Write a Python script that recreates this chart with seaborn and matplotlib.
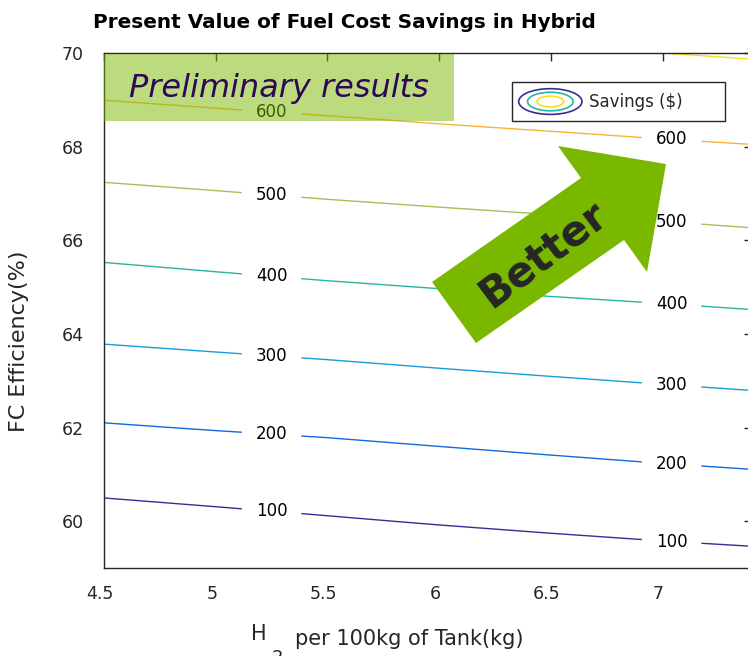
"""Contour map of present-value fuel cost savings (MATLAB-style look)."""
import matplotlib
matplotlib.use("Agg")
import matplotlib.pyplot as plt
import matplotlib.transforms as mtransforms
import numpy as np
import seaborn as sns
from matplotlib.legend_handler import HandlerBase
from matplotlib.patches import Ellipse, Polygon, Rectangle

# grid
h2_per_tank = [4.5, 5.0, 5.5, 6.0, 6.5, 7.0, 7.5]
fc_efficiency = [58, 60, 62, 64, 66, 68, 70, 72]
savings = [
    [-56, -44, -32, -19, -8, 3, 11],
    [69, 81, 93, 105, 116, 126, 135],
    [194, 204, 213, 224, 235, 246, 256],
    [313, 323, 333, 344, 354, 363, 372],
    [427, 439, 451, 460, 469, 477, 487],
    [545, 554, 563, 573, 582, 591, 599],
    [656, 666, 675, 684, 692, 700, 709],
    [763, 774, 782, 789, 797, 805, 814],
]
levels = [100, 200, 300, 400, 500, 600, 700]
level_colors = ["#3b2c95", "#1268df", "#17a0d8", "#29b6a0", "#a2c15c", "#f8b43a", "#f3e11e"]
label_x = [5.25, 7.04]

x_ticks = [4.5, 5, 5.5, 6, 6.5, 7]
x_ticklabels = ["4.5", "5", "5.5", "6", "6.5", "7"]
y_ticks = [60, 62, 64, 66, 68, 70]

W, H = 748, 656
DARK = "#262626"
GREEN = "#7ab800"

sns.set_theme(style="white")
plt.rcParams["font.family"] = ["DejaVu Sans"]


class NestedEllipses(HandlerBase):
    def create_artists(self, legend, orig_handle, xdescent, ydescent,
                       width, height, fontsize, trans):
        cx = width / 2 - xdescent
        cy = height / 2 - ydescent
        out = []
        for s, c in zip([1.0, 0.72, 0.42], [level_colors[0], level_colors[3], level_colors[6]]):
            e = Ellipse((cx, cy), width * s, height * s, fill=False,
                        edgecolor=c, lw=1.2, transform=trans)
            out.append(e)
        return out


fig = plt.figure(figsize=(W / 100, H / 100), dpi=100, facecolor="white")
ax = fig.add_axes([104 / W, (H - 568) / H, (752 - 104) / W, (568 - 53) / H])

X, Y = np.meshgrid(h2_per_tank, fc_efficiency)
Z = np.array(savings, dtype=float)
cs = ax.contour(X, Y, Z, levels=levels, colors=level_colors, linewidths=1.0)

# label spots: follow each level's line at the chosen x positions
spots = []
for lev, segs in zip(levels, cs.allsegs):
    if lev == 700 or not segs:
        continue
    seg = segs[0]
    order = np.argsort(seg[:, 0])
    for lx in label_x:
        spots.append((lx, float(np.interp(lx, seg[order, 0], seg[order, 1]))))
labels = ax.clabel(cs, levels=levels[:-1], manual=spots, inline=True,
                   inline_spacing=13, fontsize=12, colors="black", fmt="%d")
for t in labels:
    t.set_rotation(0)

ax.set_xlim(4.5, 7.4)
ax.set_ylim(59, 70)
ax.set_xticks(x_ticks)
ax.set_xticklabels(x_ticklabels)
ax.set_yticks(y_ticks)
ax.tick_params(direction="in", length=6, width=1, colors=DARK, labelsize=12.5,
               top=True, right=True)
ax.tick_params(axis="x", pad=12)
ax.tick_params(axis="y", pad=14.5)
shift = mtransforms.ScaledTranslation(-4 / 100, 0, fig.dpi_scale_trans)
for lbl in ax.get_xticklabels():
    lbl.set_transform(lbl.get_transform() + shift)
for sp in ax.spines.values():
    sp.set_visible(True)
    sp.set_color(DARK)
    sp.set_linewidth(1.0)
ax.grid(False)

ax.set_ylabel("FC Efficiency(%)", fontsize=16, color=DARK)
ax.yaxis.set_label_coords((29 - 104) / 648, (568 - 341) / 515)

# legend with nested-ellipse icon, box stretched like MATLAB's
leg_x0, leg_x1 = (512 - 104) / 648, (725 - 104) / 648
leg_top, leg_h = (568 - 82) / 515, 41 / 515
leg = ax.legend([object()], ["Savings ($)"], handler_map={object: NestedEllipses()},
                loc="upper left", mode="expand",
                bbox_to_anchor=(leg_x0, leg_top - leg_h, leg_x1 - leg_x0, leg_h),
                borderaxespad=0, fontsize=12, handlelength=3.8, handleheight=2.0,
                fancybox=False, framealpha=1, edgecolor=DARK, borderpad=0.4,
                handletextpad=0.4)
leg.get_frame().set_linewidth(1.0)

# "Preliminary results" banner on top of the plot
ax.add_patch(Rectangle((0, (568 - 121) / 515), (454 - 104) / 648, (121 - 54) / 515,
                       transform=ax.transAxes, facecolor=GREEN, edgecolor="none",
                       alpha=0.5, zorder=10, clip_on=False))
ax.text((279 - 104) / 648, (568 - 89) / 515, "Preliminary results", transform=ax.transAxes,
        fontsize=23, style="italic", color="#2e0854", ha="center", va="center", zorder=11)

# "Better" arrow
arrow_px = [(432, 282), (476, 343), (624, 240), (647, 272), (666, 164), (558, 146), (581, 178)]
fig.patches.append(Polygon([(x / W, 1 - y / H) for x, y in arrow_px], closed=True,
                           transform=fig.transFigure, facecolor=GREEN, edgecolor="none",
                           zorder=12))
fig.text(543 / W, 1 - 254 / H, "Better", rotation=37, fontsize=30, fontweight="bold",
         color=DARK, ha="center", va="center", zorder=13)

fig.text(93 / W, 1 - 22 / H, "Present Value of Fuel Cost Savings in Hybrid",
         fontsize=14.4, fontweight="bold", color="black", ha="left", va="center")

# x label with MATLAB's detached subscript
fig.text(251 / W, 1 - 640 / H, "H", fontsize=15, color=DARK, ha="left", va="baseline")
fig.text(272 / W, 1 - 663 / H, "2", fontsize=13, color=DARK, ha="left", va="baseline")
fig.text(295 / W, 1 - 645 / H, "per 100kg of Tank(kg)", fontsize=15, color=DARK,
         ha="left", va="baseline")

fig.savefig("out.png", dpi=100, facecolor="white")
